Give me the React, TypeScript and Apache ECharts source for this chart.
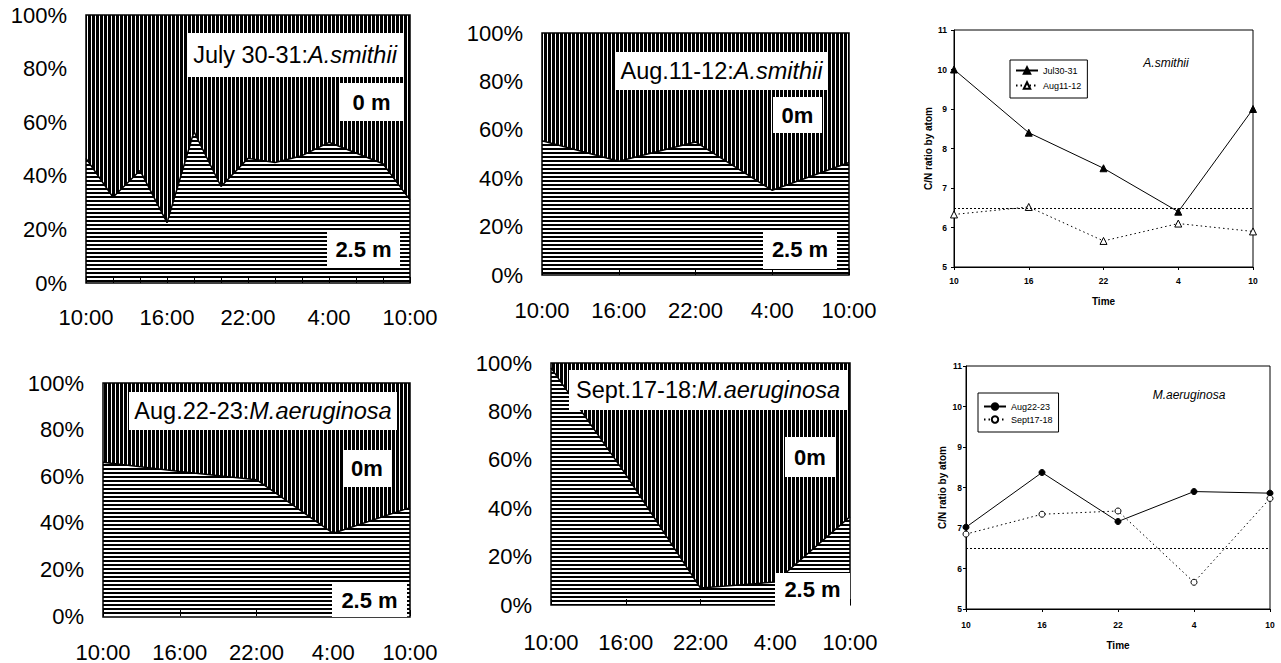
import React, { useEffect, useRef } from 'react';
import * as echarts from 'echarts';

// Sampling times
const TIMES_2H = ['10:00', '12:00', '14:00', '16:00', '18:00', '20:00', '22:00', '0:00', '2:00', '4:00', '6:00', '8:00', '10:00'];
const TIMES_6H = ['10:00', '16:00', '22:00', '4:00', '10:00'];
const HOURS = ['10', '16', '22', '4', '10'];

// Share (%) of the colony held at 2.5 m; the rest is at 0 m
const JUL30_DEEP = [46.5, 32, 42, 22.5, 56.5, 36, 46.5, 45, 47.5, 52.5, 48.5, 44.5, 31];
const AUG11_DEEP = [55.5, 47, 55, 35, 46.5];
const AUG22_DEEP = [66, 62, 58.5, 35.5, 46.5];
const SEP17_DEEP = [98, 54, 7, 9.5, 36.5];

// C/N ratio by atom
const CN_JUL30 = [10.0, 8.4, 7.5, 6.4, 9.0];
const CN_AUG11 = [6.33, 6.52, 5.66, 6.1, 5.9];
const CN_AUG22 = [7.02, 8.37, 7.16, 7.9, 7.86];
const CN_SEP17 = [6.85, 7.34, 7.42, 5.66, 7.73];
const CN_REDFIELD = 6.5;

const FF = '"Liberation Sans", Arial, Helvetica, sans-serif';

type Box = [number, number, number, number];

const AREA_PANELS = [
  {
    times: TIMES_2H, labelInterval: 2, deep: JUL30_DEEP, date: 'July 30-31:', species: 'A.smithii', surface: '0 m',
    grid: { left: 86, top: 15, width: 324, height: 268 }, labelMargin: 23,
    titleBox: [187, 33, 216, 44] as Box, surfaceBox: [340, 83, 63, 38] as Box, deepBox: [327, 230, 73, 38] as Box,
  },
  {
    times: TIMES_6H, labelInterval: 0, deep: AUG11_DEEP, date: 'Aug.11-12:', species: 'A.smithii', surface: '0m',
    grid: { left: 542, top: 33, width: 307, height: 242 }, labelMargin: 24,
    titleBox: [616, 52, 211, 38] as Box, surfaceBox: [773, 97, 49, 36] as Box, deepBox: [763, 230, 74, 39] as Box,
  },
  {
    times: TIMES_6H, labelInterval: 0, deep: AUG22_DEEP, date: 'Aug.22-23:', species: 'M.aeruginosa', surface: '0m',
    grid: { left: 103, top: 383, width: 307, height: 234 }, labelMargin: 25,
    titleBox: [129, 392, 268, 38] as Box, surfaceBox: [343, 450, 48, 37] as Box, deepBox: [332, 583, 75, 34] as Box,
  },
  {
    times: TIMES_6H, labelInterval: 0, deep: SEP17_DEEP, date: 'Sept.17-18:', species: 'M.aeruginosa', surface: '0m',
    grid: { left: 551, top: 363, width: 299, height: 242 }, labelMargin: 26,
    titleBox: [569, 370, 278, 40] as Box, surfaceBox: [785, 437, 50, 40] as Box, deepBox: [775, 573, 75, 33] as Box,
  },
];

const LINE_PANELS = [
  {
    names: ['Jul30-31', 'Aug11-12'], values: [CN_JUL30, CN_AUG11], symbol: 'triangle', symbolSize: 7,
    species: 'A.smithii', speciesAt: [1166, 63],
    grid: { left: 954, top: 30, width: 299, height: 237 },
    legend: { left: 1010, top: 60, padding: [6, 6, 8, 5], itemGap: 6 },
    xLabelMargin: 9, xNameGap: 29, yNameGap: 12, yLabelMargin: 7,
  },
  {
    names: ['Aug22-23', 'Sept17-18'], values: [CN_AUG22, CN_SEP17], symbol: 'circle', symbolSize: 6,
    species: 'M.aeruginosa', speciesAt: [1189, 395],
    grid: { left: 966, top: 366, width: 304, height: 243 },
    legend: { left: 978, top: 393, padding: [9, 6, 8, 5], itemGap: 4 },
    xLabelMargin: 11, xNameGap: 31, yNameGap: 19, yLabelMargin: 4,
  },
];

function stripeTile(dir: 'v' | 'h', period: number, ink: number) {
  const c = document.createElement('canvas');
  c.width = period;
  c.height = period;
  const ctx = c.getContext('2d')!;
  ctx.fillStyle = '#fff';
  ctx.fillRect(0, 0, period, period);
  ctx.fillStyle = '#000';
  if (dir === 'v') ctx.fillRect(0, 0, ink, period);
  else ctx.fillRect(0, 0, period, ink);
  return { image: c, repeat: 'repeat', imageWidth: period, imageHeight: period } as any;
}

function whiteBox(b: Box, style: any) {
  const [x, y, w, h] = b;
  return {
    type: 'group',
    z: 100,
    children: [
      { type: 'rect', z: 100, shape: { x, y, width: w, height: h }, style: { fill: '#fff' } },
      {
        type: 'text', z: 101, x: x + w / 2, y: y + h / 2,
        style: { fill: '#000', align: 'center', verticalAlign: 'middle', textAlign: 'center', textVerticalAlign: 'middle', ...style },
      },
    ],
  };
}

export default function App() {
  const ref = useRef<HTMLDivElement>(null);

  useEffect(() => {
    if (!ref.current) return;
    const chart = echarts.init(ref.current, undefined, { renderer: 'svg' });
    const vStripes = stripeTile('v', 4, 3);
    const hStripes = stripeTile('h', 4, 2);

    const grids: any[] = [];
    const xAxes: any[] = [];
    const yAxes: any[] = [];
    const series: any[] = [];
    const graphics: any[] = [];
    const legends: any[] = [];

    AREA_PANELS.forEach((p, i) => {
      grids.push({ ...p.grid, containLabel: false });
      xAxes.push({
        type: 'category', gridIndex: i, data: p.times, boundaryGap: false,
        axisLine: { show: false },
        axisTick: { show: true, inside: true, length: 6, interval: 0, lineStyle: { color: '#000', width: 1 } },
        axisLabel: { interval: p.labelInterval, margin: p.labelMargin, fontSize: 22, color: '#000', fontFamily: FF },
        splitLine: { show: false },
        z: 5,
      });
      yAxes.push({
        type: 'value', gridIndex: i, min: 0, max: 100, interval: 20,
        axisLine: { show: false }, axisTick: { show: false }, splitLine: { show: false },
        axisLabel: { formatter: '{value}%', margin: 19, fontSize: 22, color: '#000', fontFamily: FF },
      });
      const stack = 'layer' + i;
      series.push({
        type: 'line', name: '2.5 m', xAxisIndex: i, yAxisIndex: i, stack, data: p.deep,
        symbol: 'none', lineStyle: { color: '#000', width: 1.5 },
        areaStyle: { color: hStripes, opacity: 1 }, z: 2,
      });
      series.push({
        type: 'line', name: '0 m', xAxisIndex: i, yAxisIndex: i, stack,
        // the surface layer holds whatever is not at 2.5 m
        data: p.deep.map((v) => 100 - v),
        symbol: 'none', lineStyle: { width: 0, opacity: 0 },
        areaStyle: { color: vStripes, opacity: 1 }, z: 2,
      });
      graphics.push({
        type: 'rect', z: 99,
        shape: { x: p.grid.left, y: p.grid.top, width: p.grid.width, height: p.grid.height },
        style: { fill: 'none', stroke: '#000', lineWidth: 1.5 },
      });
      graphics.push(whiteBox(p.titleBox, {
        text: `{n|${p.date}}{i|${p.species}}`,
        rich: {
          n: { fontSize: 23.5, fontFamily: FF, fill: '#000' },
          i: { fontSize: 23.5, fontFamily: FF, fontStyle: 'italic', fill: '#000' },
        },
      }));
      graphics.push(whiteBox(p.surfaceBox, { text: p.surface, fontSize: 22, fontWeight: 'bold', fontFamily: FF }));
      graphics.push(whiteBox(p.deepBox, { text: '2.5 m', fontSize: 22, fontWeight: 'bold', fontFamily: FF }));
    });

    LINE_PANELS.forEach((p, k) => {
      const gi = AREA_PANELS.length + k;
      grids.push({ ...p.grid, show: true, borderColor: '#000', borderWidth: 1, backgroundColor: 'transparent' });
      xAxes.push({
        type: 'category', gridIndex: gi, data: HOURS, boundaryGap: false,
        name: 'Time', nameLocation: 'middle', nameGap: p.xNameGap,
        nameTextStyle: { fontSize: 10, fontWeight: 'bold', color: '#000', fontFamily: FF },
        axisLine: { show: true, lineStyle: { color: '#000', width: 1 } },
        axisTick: { show: true, length: 3, interval: 0, lineStyle: { color: '#000' } },
        axisLabel: { interval: 0, margin: p.xLabelMargin, fontSize: 8.5, fontWeight: 'bold', color: '#000', fontFamily: FF },
        splitLine: { show: false },
      });
      yAxes.push({
        type: 'value', gridIndex: gi, min: 5, max: 11, interval: 1,
        name: 'C/N ratio by atom', nameLocation: 'middle', nameGap: p.yNameGap,
        nameTextStyle: { fontSize: 10, fontWeight: 'bold', color: '#000', fontFamily: FF },
        axisLine: { show: true, lineStyle: { color: '#000', width: 1 } },
        axisTick: { show: true, length: 3, lineStyle: { color: '#000' } },
        axisLabel: { margin: p.yLabelMargin, fontSize: 8.5, fontWeight: 'bold', color: '#000', fontFamily: FF },
        splitLine: { show: false },
      });
      series.push({
        type: 'line', name: p.names[0], xAxisIndex: gi, yAxisIndex: gi, data: p.values[0],
        symbol: p.symbol, symbolSize: p.symbolSize,
        itemStyle: { color: '#000', borderColor: '#000', borderWidth: 1 },
        lineStyle: { color: '#000', width: 1, type: 'solid' },
        markLine: {
          silent: true, symbol: 'none', label: { show: false },
          lineStyle: { color: '#000', type: [2, 2], width: 1 },
          data: [{ yAxis: CN_REDFIELD }],
        },
        z: 3,
      });
      series.push({
        type: 'line', name: p.names[1], xAxisIndex: gi, yAxisIndex: gi, data: p.values[1],
        symbol: p.symbol, symbolSize: p.symbolSize,
        itemStyle: { color: '#fff', borderColor: '#000', borderWidth: 1 },
        lineStyle: { color: '#000', width: 1, type: [1.5, 3] },
        z: 3,
      });
      legends.push({
        orient: 'vertical', left: p.legend.left, top: p.legend.top, padding: p.legend.padding,
        itemGap: p.legend.itemGap, itemWidth: 22, itemHeight: 8,
        data: p.names, selectedMode: false,
        borderColor: '#000', borderWidth: 1, backgroundColor: '#fff',
        textStyle: { fontSize: 9, color: '#000', fontFamily: FF },
      });
      graphics.push({
        type: 'text', z: 100, x: p.speciesAt[0], y: p.speciesAt[1],
        style: {
          text: p.species, fontSize: 12, fontStyle: 'italic', fontFamily: FF, fill: '#000',
          align: 'center', verticalAlign: 'middle', textAlign: 'center', textVerticalAlign: 'middle',
        },
      });
    });

    chart.setOption({
      animation: false,
      backgroundColor: '#fff',
      textStyle: { fontFamily: FF },
      grid: grids,
      xAxis: xAxes,
      yAxis: yAxes,
      legend: legends,
      series,
      graphic: { elements: graphics },
    });

    return () => chart.dispose();
  }, []);

  return (
    <div
      ref={ref}
      style={{ position: 'fixed', left: 0, top: 0, width: 1281, height: 663, background: '#fff' }}
    />
  );
}
